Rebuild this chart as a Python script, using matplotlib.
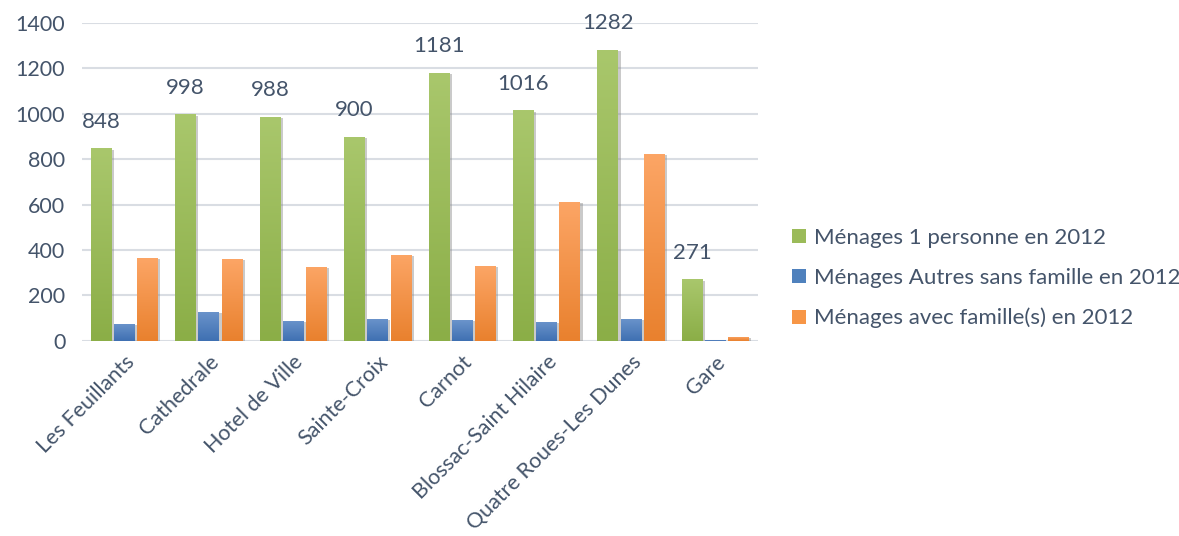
import numpy as np
import matplotlib.pyplot as plt
from matplotlib.colors import LinearSegmentedColormap
from matplotlib.patches import Patch
import matplotlib.patheffects as pe

plt.rcParams["font.family"] = ["Lato", "DejaVu Sans"]

# ------------------------------------------------------------
# DONNÉES
# ------------------------------------------------------------
quartiers = ["Les Feuillants", "Cathedrale", "Hotel de Ville", "Sainte-Croix",
             "Carnot", "Blossac-Saint Hilaire", "Quatre Roues-Les Dunes", "Gare"]
menages_1_personne = [848, 998, 988, 900, 1181, 1016, 1282, 271]
menages_autres = [75, 128, 89, 97, 92, 84, 97, 3]
menages_famille = [365, 361, 326, 379, 330, 613, 823, 19]

series = [
    ("Ménages 1 personne en 2012", menages_1_personne, "#9BBB59", "#a9c76c", "#8bae47"),
    ("Ménages Autres sans famille en 2012", menages_autres, "#4F81BD", "#6b94cb", "#3f70b2"),
    ("Ménages avec famille(s) en 2012", menages_famille, "#F79646", "#fca565", "#e9812e"),
]

TEXTE = "#44546A"

fig = plt.figure(figsize=(11.79, 5.36), dpi=100)
ax = fig.add_axes([0.0695, 0.364, 0.573, 0.593])

x = np.arange(len(quartiers))
largeur = 0.24
decalages = [-0.275, 0, 0.275]

for (nom, valeurs, couleur, haut, bas), dx in zip(series, decalages):
    barres = ax.bar(x + dx, valeurs, width=largeur, color=couleur, zorder=3,
                    path_effects=[pe.SimplePatchShadow(offset=(2, -1), shadow_rgbFace="#8a8a8a", alpha=0.45),
                                  pe.Normal()])
    cmap = LinearSegmentedColormap.from_list(nom, [bas, haut])
    grad = np.linspace(0, 1, 100).reshape(-1, 1)
    for b in barres:
        h = b.get_height()
        if h <= 0:
            continue
        im = ax.imshow(grad, cmap=cmap, origin="lower", aspect="auto", zorder=4,
                       extent=[b.get_x(), b.get_x() + b.get_width(), 0, h])
        im.set_clip_path(b)

# étiquettes sur les barres vertes
for xi, v in zip(x + decalages[0], menages_1_personne):
    ax.annotate(str(v), (xi, v), xytext=(0, 12), textcoords="offset points",
                ha="center", va="bottom", fontsize=16, color=TEXTE)

ax.set_xlim(-0.5, len(quartiers) - 0.5)
ax.set_ylim(0, 1400)
ax.set_yticks(range(0, 1401, 200))
ax.grid(axis="y", color="#d9dde3", linewidth=1.5, zorder=0)
ax.set_axisbelow(True)
for s in ax.spines.values():
    s.set_visible(False)
ax.tick_params(length=0, labelsize=15.5, labelcolor=TEXTE)
ax.tick_params(axis="y", pad=12)
ax.set_xticks(x)
ax.set_xticklabels(quartiers, rotation=45, ha="right", rotation_mode="anchor")
ax.tick_params(axis="x", pad=8)

handles = [Patch(facecolor=c, label=n) for n, _, c, _, _ in series]
fig.legend(handles=handles, loc="center left", bbox_to_anchor=(0.655, 0.481),
           frameon=False, fontsize=16, labelcolor=TEXTE, handlelength=0.6,
           handleheight=0.6, handletextpad=0.4, labelspacing=0.9)

fig.savefig("out.png", dpi=100)
